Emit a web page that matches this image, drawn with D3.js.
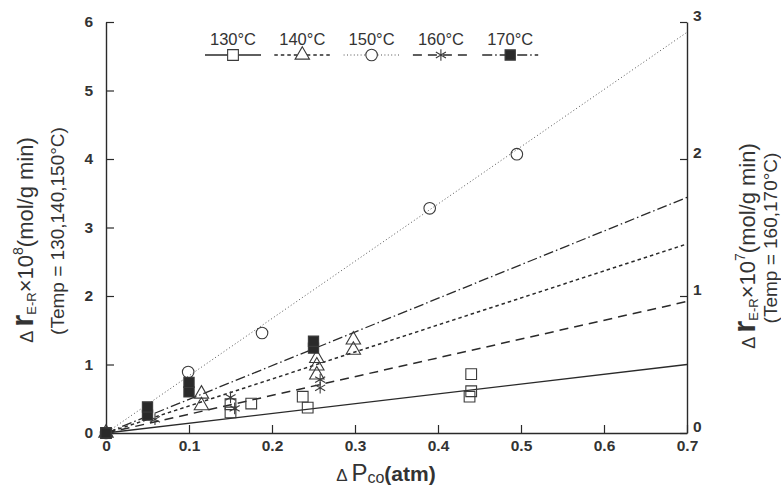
<!DOCTYPE html>
<html>
<head>
<meta charset="utf-8">
<script src="https://cdn.jsdelivr.net/npm/d3@7"></script>
<style>
  body { margin: 0; background: #fff; }
  svg { display: block; font-family: "Liberation Sans", Arial, sans-serif; }
</style>
</head>
<body>
<svg id="chart" width="781" height="486"></svg>
<script>

let seriesNames = ["130°C", "140°C", "150°C", "160°C", "170°C"]

// left axis (x10^8) for 130,140,150 ; right axis (x10^7) for 160,170
let seriesAxis = ["left", "left", "left", "right", "right"]

let x130 = [0, 0.15, 0.15, 0.175, 0.237, 0.243, 0.44, 0.44, 0.438]
let y130 = [0, 0.30, 0.42, 0.43, 0.53, 0.37, 0.86, 0.61, 0.53]

let x140 = [0, 0.115, 0.115, 0.254, 0.254, 0.254, 0.298, 0.298]
let y140 = [0, 0.57, 0.40, 1.09, 0.98, 0.85, 1.36, 1.21]

let x150 = [0, 0.099, 0.188, 0.39, 0.495]
let y150 = [0, 0.89, 1.46, 3.28, 4.07]

let x160 = [0, 0.059, 0.15, 0.155, 0.258, 0.258]
let y160 = [0, 0.10, 0.26, 0.18, 0.39, 0.33]

let x170 = [0, 0.05, 0.05, 0.1, 0.1, 0.25, 0.25]
let y170 = [0, 0.13, 0.19, 0.30, 0.37, 0.62, 0.67]

// fitted lines through the origin, value reached at P = 0.7
let fitEnd = [1.0, 2.76, 5.85, 0.96, 1.72]

let xTicks = [0, 0.1, 0.2, 0.3, 0.4, 0.5, 0.6, 0.7]
let xTickLabels = ["0", "0.1", "0.2", "0.3", "0.4", "0.5", "0.6", "0.7"]
let yLeftTicks = [0, 1, 2, 3, 4, 5, 6]
let yRightTicks = [0, 1, 2, 3]

let xs = [x130, x140, x150, x160, x170]
let ys = [y130, y140, y150, y160, y170]

let svg = d3.select("#chart")
let ink = "#2a2a2a"

let x = d3.scaleLinear().domain([0, 0.7]).range([106, 687])
let yL = d3.scaleLinear().domain([0, 6]).range([433, 22])
let yR = d3.scaleLinear().domain([0, 3]).range([433, 22])
let yFor = i => seriesAxis[i] === "left" ? yL : yR

let dashes = [null, "3.5,3", "1,2.4", "9,6", "10,3,1.5,3"]
let widths = [1.3, 1.5, 1, 1.5, 1.3]
let lineInk = [ink, ink, "#555", ink, ink]

let symbols = [
    {type: d3.symbolSquare, size: 115, fill: "none"},
    {type: d3.symbolTriangle, size: 90, fill: "none"},
    {type: d3.symbolCircle, size: 105, fill: "none"},
    {type: d3.symbolAsterisk, size: 95, fill: "none"},
    {type: d3.symbolSquare, size: 105, fill: ink}
]

// axes
let styleAxis = function(g){
    g.select(".domain").attr("stroke", ink).attr("stroke-width", 1.4)
    g.selectAll(".tick line").attr("stroke", ink).attr("stroke-width", 1.2)
    g.selectAll(".tick text")
        .attr("fill", "#333")
        .attr("font-size", "15.5px")
        .attr("font-weight", "bold")
        .attr("font-family", "'Liberation Sans', Arial, sans-serif")
}

svg.append("g")
    .attr("transform", "translate(0,433)")
    .call(d3.axisBottom(x).tickValues(xTicks)
        .tickFormat((d, i) => xTickLabels[i])
        .tickSizeInner(-8).tickSizeOuter(0).tickPadding(7))
    .call(styleAxis)

svg.append("g")
    .attr("transform", "translate(106,0)")
    .call(d3.axisLeft(yL).tickValues(yLeftTicks)
        .tickFormat(d3.format("d"))
        .tickSizeInner(-8).tickSizeOuter(0).tickPadding(13))
    .call(styleAxis)

svg.append("g")
    .attr("transform", "translate(687,0)")
    .call(d3.axisRight(yR).tickValues(yRightTicks)
        .tickFormat(d3.format("d"))
        .tickSizeInner(-7).tickSizeOuter(0).tickPadding(6))
    .call(styleAxis)
    .call(g => g.selectAll(".tick text").attr("dy", "-0.1em"))

// fit lines
let fits = svg.append("g")
seriesNames.forEach(function(name, i){
    let sy = yFor(i)
    fits.append("line")
        .attr("x1", x(0)).attr("y1", sy(0))
        .attr("x2", x(0.7)).attr("y2", sy(fitEnd[i]))
        .attr("stroke", lineInk[i])
        .attr("stroke-width", widths[i])
        .attr("stroke-dasharray", dashes[i])
})

// markers
let marks = svg.append("g")
seriesNames.forEach(function(name, i){
    let sy = yFor(i)
    let sym = symbols[i]
    let pts = xs[i].map((v, k) => [v, ys[i][k]])
    marks.selectAll(".m" + i)
        .data(pts)
        .enter()
        .append("path")
        .attr("class", "m" + i)
        .attr("d", d3.symbol().type(sym.type).size(sym.size))
        .attr("transform", d => "translate(" + x(d[0]) + "," + sy(d[1]) + ")")
        .attr("fill", sym.fill)
        .attr("stroke", "#3a3a3a")
        .attr("stroke-width", 1.1)
})

// legend
let legend = svg.append("g")
seriesNames.forEach(function(name, i){
    let cx = 233 + i * 69.3
    legend.append("text")
        .attr("x", cx)
        .attr("y", 45)
        .attr("text-anchor", "middle")
        .attr("font-size", "16.5px")
        .attr("fill", "#333")
        .text(name)
    legend.append("line")
        .attr("x1", cx - 28).attr("x2", cx + 28)
        .attr("y1", 55).attr("y2", 55)
        .attr("stroke", lineInk[i])
        .attr("stroke-width", widths[i])
        .attr("stroke-dasharray", dashes[i])
    legend.append("path")
        .attr("d", d3.symbol().type(symbols[i].type).size(symbols[i].size))
        .attr("transform", "translate(" + cx + ",55)")
        .attr("fill", symbols[i].fill === "none" ? "white" : symbols[i].fill)
        .attr("stroke", "#3a3a3a")
        .attr("stroke-width", 1.1)
})

// axis titles
let yTitle = function(cx, cy, power){
    let t = svg.append("text")
        .attr("transform", "translate(" + cx + "," + cy + ") rotate(-90)")
        .attr("text-anchor", "middle")
        .attr("fill", "#333")
        .attr("font-size", "22px")
    t.append("tspan").attr("font-size", "18px").text("Δ ")
    t.append("tspan").attr("font-size", "31px").attr("font-weight", "bold").text("r")
    t.append("tspan").attr("font-size", "13px").attr("dy", 3).text("E-R")
    t.append("tspan").attr("dy", -3).text("×10")
    t.append("tspan").attr("font-size", "14px").attr("dy", -10).text(power)
    t.append("tspan").attr("dy", 10).text("(mol/g min)")
}

let tempTitle = function(cx, cy, label){
    svg.append("text")
        .attr("transform", "translate(" + cx + "," + cy + ") rotate(-90)")
        .attr("text-anchor", "middle")
        .attr("fill", "#333")
        .attr("font-size", "19px")
        .text(label)
}

yTitle(33, 240, "8")
tempTitle(64, 231, "(Temp = 130,140,150°C)")
yTitle(755, 246, "7")
tempTitle(777, 238, "(Temp = 160,170°C)")

let xt = svg.append("text")
    .attr("x", 386)
    .attr("y", 481)
    .attr("text-anchor", "middle")
    .attr("fill", "#333")
    .attr("font-size", "21px")
    .attr("font-weight", "bold")
xt.append("tspan").attr("font-size", "17px").attr("font-weight", "normal").text("Δ ")
xt.append("tspan").attr("font-size", "24px").attr("font-weight", "normal").text("P")
xt.append("tspan").attr("font-size", "16px").attr("font-weight", "normal").attr("dy", 2).text("co")
xt.append("tspan").attr("dy", -2).text("(atm)")

</script>
</body>
</html>
